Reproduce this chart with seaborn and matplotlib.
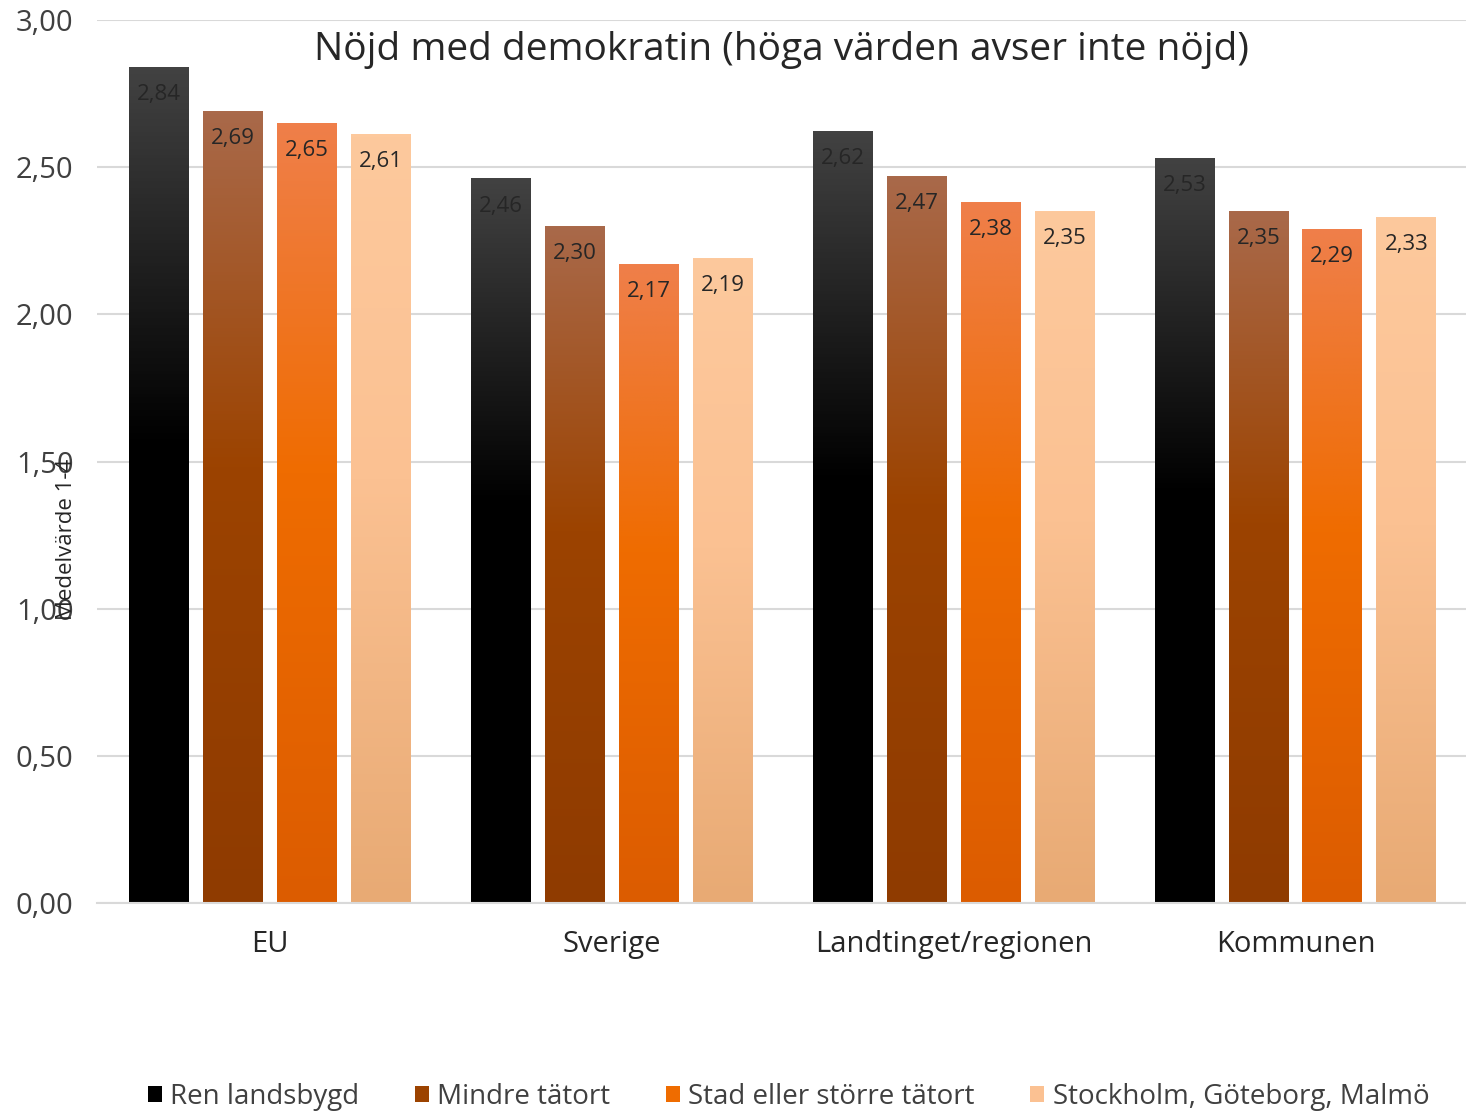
import numpy as np
import pandas as pd
import matplotlib
matplotlib.use("Agg")
import matplotlib.pyplot as plt
import seaborn as sns
from matplotlib.colors import to_rgb
from matplotlib.patches import Patch

categories = ["EU", "Sverige", "Landtinget/regionen", "Kommunen"]
series = ["Ren landsbygd", "Mindre tätort", "Stad eller större tätort", "Stockholm, Göteborg, Malmö"]
ren = [2.84, 2.46, 2.62, 2.53]
mindre = [2.69, 2.30, 2.47, 2.35]
stad = [2.65, 2.17, 2.38, 2.29]
sgm = [2.61, 2.19, 2.35, 2.33]
yticks = [0.0, 0.5, 1.0, 1.5, 2.0, 2.5, 3.0]

title = "Nöjd med demokratin (höga värden avser inte nöjd)"
ylabel = "Medelvärde 1-4"

# gradient stops: (top, mid, bottom)
grad = {
    "Ren landsbygd": ("#424242", "#000000", "#000000"),
    "Mindre tätort": ("#a9694a", "#9c4300", "#8f3b00"),
    "Stad eller större tätort": ("#ef7f4a", "#ef6c00", "#dc5c00"),
    "Stockholm, Göteborg, Malmö": ("#fdc99d", "#fbc192", "#e8aa74"),
}

rows = []
for s, vals in zip(series, [ren, mindre, stad, sgm]):
    for c, v in zip(categories, vals):
        rows.append({"cat": c, "serie": s, "val": v})
df = pd.DataFrame(rows)

sns.set_style("white")
plt.rcParams["font.family"] = ["Open Sans", "DejaVu Sans"]

fig = plt.figure(figsize=(14.66, 11.14), dpi=100)
ax = fig.add_axes([0.0662, 0.1894, 0.934, 0.7926])

pal = {s: grad[s][1] for s in series}
sns.barplot(data=df, x="cat", y="val", hue="serie", hue_order=series, order=categories,
            palette=pal, width=0.865, gap=0.19, ax=ax, legend=False, zorder=2)

ax.set_ylim(0, 3.0)
ax.set_xlim(-0.506, 3.5)

def make_grad(cols, n=256):
    t, m, b = [np.array(to_rgb(c)) for c in cols]
    pos = np.linspace(0, 1, n)
    out = np.zeros((n, 1, 3))
    for i, p in enumerate(pos):
        if p < 0.45:
            f = p / 0.45
            out[i, 0] = t * (1 - f) + m * f
        else:
            f = (p - 0.45) / 0.55
            out[i, 0] = m * (1 - f) + b * f
    return out

for s, cont in zip(series, ax.containers):
    img = make_grad(grad[s])
    for p, v in zip(cont.patches, cont.datavalues):
        x0 = p.get_x(); w = p.get_width(); h = p.get_height()
        ax.imshow(img, extent=(x0, x0 + w, 0, h), aspect="auto", zorder=3, origin="upper")
        p.set_facecolor("none"); p.set_edgecolor("none")
        ax.annotate(f"{v:.2f}".replace(".", ","), (x0 + w / 2, h), xytext=(0, -19.5),
                    textcoords="offset points", ha="center", va="center",
                    fontsize=16, color="#262626", zorder=4)

ax.set_xlim(-0.506, 3.5)
ax.set_ylim(0, 3.0)
ax.set_yticks(yticks)
ax.set_yticklabels([f"{t:.2f}".replace(".", ",") for t in yticks], fontsize=21, color="#404040")
ax.tick_params(axis="y", length=0, pad=17)
ax.tick_params(axis="x", length=0, pad=19.5, labelsize=21, labelcolor="#262626")
ax.set_xlabel("")
ax.set_ylabel(ylabel, fontsize=16, color="#262626")
ax.yaxis.set_label_coords(-0.0146, 0.412)
ax.grid(axis="y", color="#d9d9d9", linewidth=1.5, zorder=0)
ax.set_axisbelow(True)
for sp in ["top", "left", "right"]:
    ax.spines[sp].set_visible(False)
ax.spines["bottom"].set_color("#d9d9d9")
ax.spines["bottom"].set_linewidth(1.5)
ax.spines["bottom"].set_zorder(5)

ax.text(0.5, 0.966, title, transform=ax.transAxes, ha="center", va="center",
        fontsize=28, color="#262626", zorder=6)

handles = [Patch(facecolor=grad[s][1], edgecolor="none", label=s) for s in series]
fig.legend(handles=handles, loc="center", bbox_to_anchor=(0.538, 0.0155), ncol=4,
           frameon=False, fontsize=20, handlelength=0.5, handleheight=0.5,
           handletextpad=0.3, columnspacing=2.0, labelcolor="#404040")

fig.savefig("out.png", dpi=100)
